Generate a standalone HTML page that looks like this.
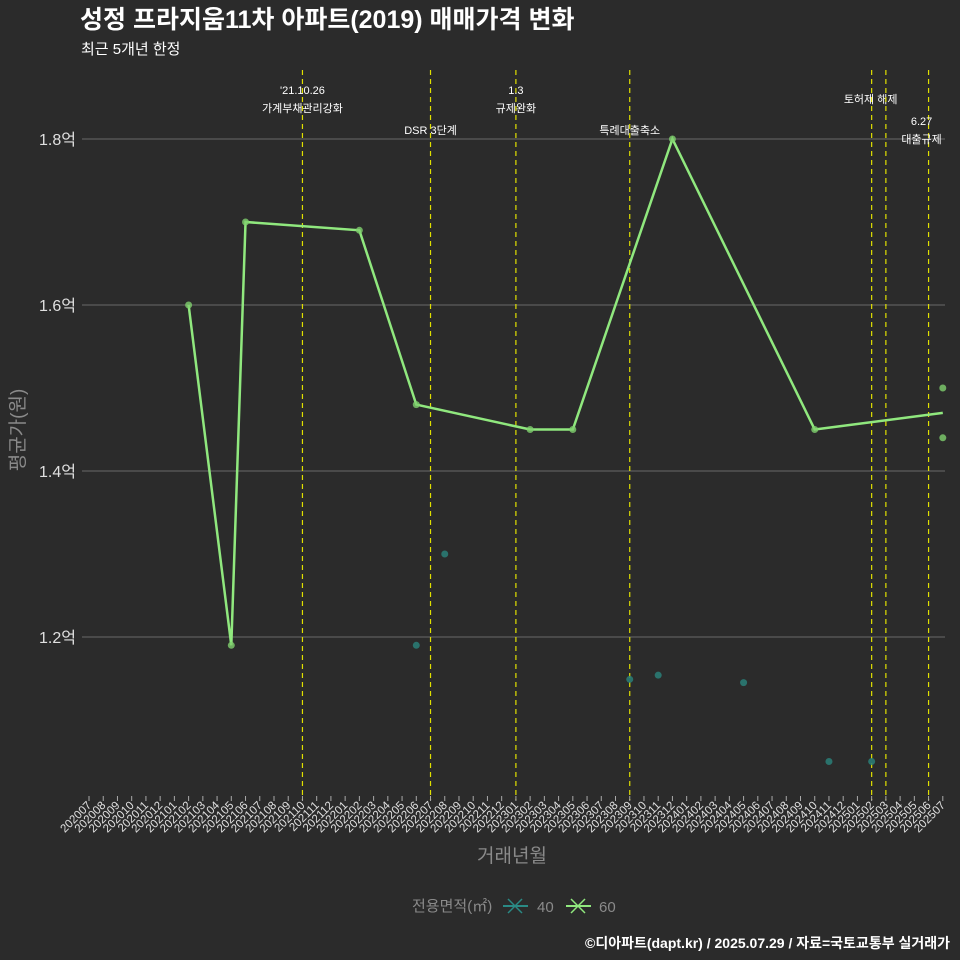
<!DOCTYPE html>
<html><head><meta charset="utf-8">
<style>
html,body{margin:0;padding:0;background:#2b2b2b;overflow:hidden;width:960px;height:960px;}
svg{display:block;}
svg text{font-family:"Liberation Sans","Noto Sans CJK KR",sans-serif;}
</style></head>
<body>
<svg id="chart" width="960" height="960" xmlns="http://www.w3.org/2000/svg">
<rect width="960" height="960" fill="#2b2b2b"/>
<text x="80" y="28" font-size="25" font-weight="bold" fill="#ffffff">성정 프라지움11차 아파트(2019) 매매가격 변화</text>
<text x="81" y="54" font-size="15" fill="#ffffff">최근 5개년 한정</text>
<g id="grid"></g>
<g id="vlines"></g>
<g id="series"></g>
<g id="xaxis"></g>
<g id="yaxis"></g>
<text x="512" y="862" font-size="19" fill="#8a8a8a" text-anchor="middle">거래년월</text>
<text transform="translate(24,430) rotate(-90)" font-size="19" fill="#8a8a8a" text-anchor="middle">평균가(원)</text>
<g>
<text x="412" y="911" font-size="15" fill="#8a8a8a">전용면적(㎡)</text>
<g>
<line x1="503" y1="906" x2="528" y2="906" stroke="#2a8a85" stroke-width="2"/>
<line x1="508" y1="899" x2="522" y2="913" stroke="#2a8a85" stroke-width="1.5"/>
<line x1="508" y1="913" x2="522" y2="899" stroke="#2a8a85" stroke-width="1.5"/>
<text x="537" y="912" font-size="15" fill="#8a8a8a">40</text></g>
<g>
<line x1="566" y1="906" x2="591" y2="906" stroke="#90e87e" stroke-width="2"/>
<line x1="571" y1="899" x2="585" y2="913" stroke="#90e87e" stroke-width="1.5"/>
<line x1="571" y1="913" x2="585" y2="899" stroke="#90e87e" stroke-width="1.5"/>
<text x="599" y="912" font-size="15" fill="#8a8a8a">60</text></g>
</g>
<text x="950" y="948" font-size="14" font-weight="bold" fill="#ffffff" text-anchor="end">©디아파트(dapt.kr) / 2025.07.29 / 자료=국토교통부 실거래가</text>
</svg>
<script>
const months=[];for(let y=2020;y<=2025;y++)for(let m=1;m<=12;m++){const k=y*100+m;if(k>=202007&&k<=202507)months.push(String(k));}
const yTicks=[1.2,1.4,1.6,1.8];
const yTickLabels=["1.2억","1.4억","1.6억","1.8억"];
const line60Months=["202102","202105","202106","202202","202206","202302","202305","202312","202410","202507"];
const line60Values=[1.6,1.19,1.7,1.69,1.48,1.45,1.45,1.8,1.45,1.47];
const pts60Months=["202102","202105","202106","202202","202206","202302","202305","202312","202410","202507","202507"];
const pts60Values=[1.6,1.19,1.7,1.69,1.48,1.45,1.45,1.8,1.45,1.5,1.44];
const pts40Months=["202206","202208","202309","202311","202405","202411","202502"];
const pts40Values=[1.19,1.3,1.149,1.154,1.145,1.05,1.05];
const eventMonths=["202110","202207","202301","202309","202502","202503","202506"];
const eventLabels=[["'21.10.26","가계부채관리강화"],["DSR 3단계"],["1.3","규제완화"],["특례대출축소"],["토허제 해제"],[],["6.27","대출규제"]];
const eventLabelY=[[94,112],[134],[94,112],[134],[103],[],[125,143]];
const eventLabelX=[0,0,0,0,-1,0,-7];
const NS="http://www.w3.org/2000/svg";
const X=m=>89+months.indexOf(m)*14.23;
const Y=v=>637-(v-1.2)*830;
function el(t,a,p){const e=document.createElementNS(NS,t);for(const k in a)e.setAttribute(k,a[k]);document.getElementById(p).appendChild(e);return e;}
yTicks.forEach((v,i)=>{
 const g=el('line',{x1:82,x2:945,y1:Y(v),y2:Y(v),stroke:'#6a6a6a','stroke-width':1},'grid');
 
 
 const t=el('text',{x:76,y:Y(v)+6,'font-size':16,fill:'#e0e0e0','text-anchor':'end'},'yaxis');
 t.textContent=yTickLabels[i];
 
 
});
months.forEach(m=>{
 const x=X(m);
 const tk=el('line',{x1:x,x2:x,y1:796,y2:801,stroke:'#aaaaaa','stroke-width':1},'xaxis');
 
 
 const t=el('text',{transform:`translate(${x+3},806) rotate(-45)`,'font-size':11.5,fill:'#e0e0e0','text-anchor':'end'},'xaxis');
 t.textContent=m;
 
 
});
eventMonths.forEach((m,i)=>{
 const x=X(m);
 const l=el('line',{x1:x,x2:x,y1:70,y2:800,stroke:'#e0e000','stroke-width':1.2,'stroke-dasharray':'5,4'},'vlines');
 
 
 eventLabels[i].forEach((s,j)=>{
  const t=el('text',{x:x+eventLabelX[i],y:eventLabelY[i][j],'font-size':11,fill:'#ffffff','text-anchor':'middle'},'vlines');
  t.textContent=s;
  
  
 });
});
const p=el('polyline',{points:line60Months.map((m,i)=>X(m)+','+Y(line60Values[i])).join(' '),fill:'none',stroke:'#90e87e','stroke-width':2.5},'series');


pts60Months.forEach((m,i)=>{
 const c=el('circle',{cx:X(m),cy:Y(pts60Values[i]),r:3.5,fill:'#7fcf6e','fill-opacity':0.8},'series');
 
 
});
pts40Months.forEach((m,i)=>{
 const c=el('circle',{cx:X(m),cy:Y(pts40Values[i]),r:3.5,fill:'#2a7f78','fill-opacity':0.85},'series');
 
 
});
</script>
</body></html>
